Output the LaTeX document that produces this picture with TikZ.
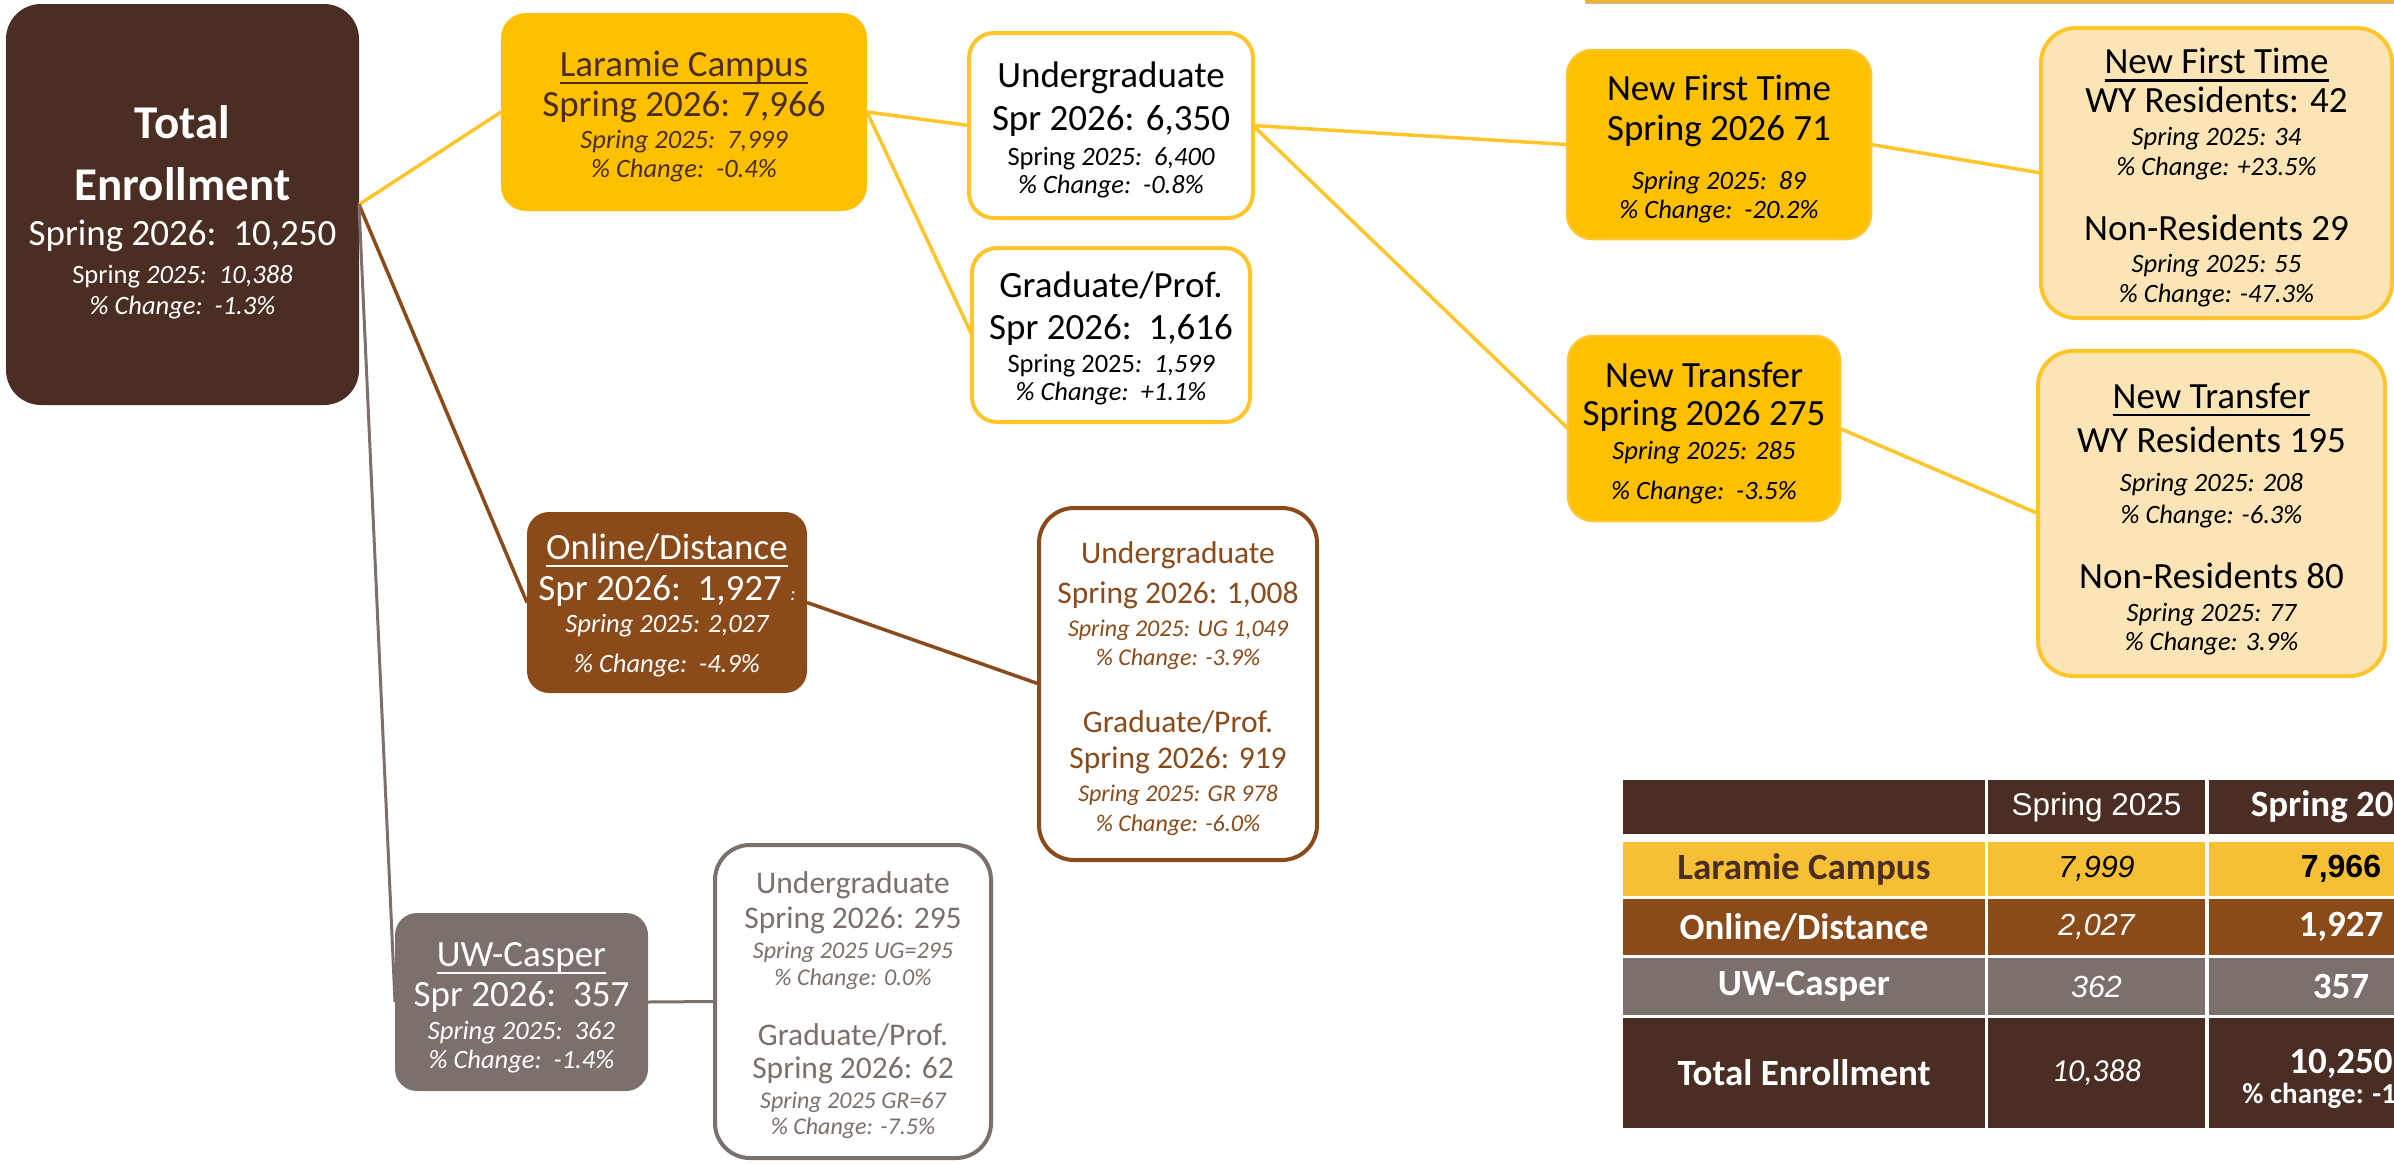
\documentclass[tikz,border=0pt]{standalone}
\usepackage{fontspec}
\setmainfont{Carlito}
\newfontfamily\arialf{Liberation Sans}
\definecolor{ubrown}{HTML}{4A2E23}
\definecolor{boxgold}{HTML}{FFC000}
\definecolor{lgold}{HTML}{FFC52A}
\definecolor{tgold}{HTML}{F6BF36}
\definecolor{obrown}{HTML}{8A4A1A}
\definecolor{ugray}{HTML}{7B706B}
\definecolor{lyel}{HTML}{FBE5B6}
\definecolor{topgold}{HTML}{F2B02F}
\newcommand\TLn[3]{\lineskiplimit=-100pt\spaceskip=0pt\xspaceskip=0pt\fontsize{#1}{#2}\selectfont{#3}\par}
\newcommand\pushd[1]{\raisebox{#1}{\vphantom{Ldlf}}}
\newsavebox\ulbox
\newcommand\ulx[1]{\sbox\ulbox{#1}\rlap{\rule[-0.22em]{\wd\ulbox}{0.07em}}\usebox\ulbox}
\tikzset{
  bx/.style={inner sep=0pt, outer sep=0pt, align=center},
  darkbox/.style={bx, fill=ubrown, text=white},
  goldbox/.style={bx, fill=boxgold, draw=lgold, line width=2.5pt},
  wgold/.style={bx, fill=white, draw=lgold, line width=4pt, text=black},
  ybox/.style={bx, fill=lyel, draw=lgold, line width=4pt, text=black},
  obox/.style={bx, fill=obrown, text=white},
  wbrown/.style={bx, fill=white, draw=obrown, line width=4pt, text=obrown},
  gbox/.style={bx, fill=ugray, text=white},
  wgray/.style={bx, fill=white, draw=ugray, line width=4pt, text=ugray},
  goldline/.style={draw=lgold, line width=3.5pt},
  brownline/.style={draw=obrown, line width=3.5pt},
  grayline/.style={draw=ugray, line width=3pt},
  cell/.style={inner sep=0pt, outer sep=0pt, align=center},
  lblfont/.style={font=\bfseries\fontsize{37}{40}\selectfont},
  oldfont/.style={font=\arialf\itshape\fontsize{30.5}{34}\selectfont},
  newfont/.style={font=\bfseries\fontsize{37}{40}\selectfont}
}
\begin{document}
\begin{tikzpicture}[x=1pt,y=-1pt]
\useasboundingbox (0,0) rectangle (2394,1163);
\begin{scope}
\clip (0,0) rectangle (2394,1163);
% top strip
\fill[topgold] (1585,0) rectangle (2394,2.5);
\fill[black!25] (1585,2.5) rectangle (2394,4);

% main boxes
\node[darkbox, rounded corners=35pt, minimum width=353pt, minimum height=401pt, text width=345pt] (tot) at (182.5,204.5)
 {\centering
  \TLn{47}{62}{\pushd{16pt}\bfseries Total}
  \TLn{47}{62}{\bfseries Enrollment}
  \TLn{37}{45}{Spring 2026:\ \ 10,250}
  \TLn{26.5}{37.5}{Spring \itshape 2025:\ \ 10,388}
  \TLn{26.5}{31}{\itshape \%~Change:\ \ -1.3\%}};

\node[bx, fill=boxgold, text=ubrown, rounded corners=25pt, minimum width=366pt, minimum height=198pt, text width=358pt] (lar) at (684,112)
 {\centering
  \TLn{37}{40}{\pushd{9pt}\ulx{Laramie Campus}}
  \TLn{37}{40}{Spring 2026: 7,966}
  \TLn{26.5}{32.5}{\itshape Spring 2025:\ \ 7,999}
  \TLn{26.5}{29}{\itshape \%~Change:\ \ -0.4\%}};

\node[wgold, rounded corners=25pt, minimum width=284pt, minimum height=185pt, text width=276pt] (ug) at (1111,125.5)
 {\centering
  \TLn{37}{40}{\pushd{8pt}Undergraduate}
  \TLn{37}{43}{Spr 2026: 6,350}
  \TLn{26.5}{35}{Spring \itshape 2025:\ \ 6,400}
  \TLn{26.5}{28}{\itshape \%~Change:\ \ -0.8\%}};

\node[wgold, rounded corners=25pt, minimum width=278pt, minimum height=174pt, text width=270pt] (grad) at (1111,335)
 {\centering
  \TLn{37}{40}{\pushd{7pt}Graduate/Prof.}
  \TLn{37}{42}{Spr 2026:\ \ 1,616}
  \TLn{26.5}{33}{Spring 2025\itshape :\ \ 1,599}
  \TLn{26.5}{28}{\itshape \%~Change:\ \ +1.1\%}};

\node[goldbox, rounded corners=25pt, minimum width=304pt, minimum height=189pt, text width=296pt] (nft) at (1719,144.5)
 {\centering
  \TLn{37}{40}{\pushd{8pt}New First Time}
  \TLn{37}{40}{Spring 2026 71}
  \TLn{26.5}{49}{\itshape Spring 2025:\ \ 89}
  \TLn{26.5}{29}{\itshape \%~Change:\ \ -20.2\%}};

\node[goldbox, rounded corners=25pt, minimum width=272pt, minimum height=185pt, text width=266pt] (nt) at (1704,428.5)
 {\centering
  \TLn{37}{40}{\pushd{8pt}New Transfer}
  \TLn{37}{38}{Spring 2026 275}
  \TLn{26.5}{34}{\itshape Spring 2025: 285}
  \TLn{26.5}{40}{\itshape \%~Change:\ \ -3.5\%}};

\node[ybox, rounded corners=35pt, minimum width=351pt, minimum height=290pt, text width=343pt] (nfr) at (2216.5,173)
 {\centering
  \TLn{37}{39}{\pushd{9pt}\ulx{New First Time}}
  \TLn{37}{39}{WY Residents: 42}
  \TLn{26.5}{33}{\itshape Spring 2025: 34}
  \TLn{26.5}{30}{\itshape \%~Change: +23.5\%}
  \TLn{37}{65}{Non-Residents 29}
  \TLn{26.5}{32}{\itshape Spring 2025: 55}
  \TLn{26.5}{30}{\itshape \%~Change: -47.3\%}};

\node[ybox, rounded corners=35pt, minimum width=347pt, minimum height=325pt, text width=339pt] (ntr) at (2211.5,513.5)
 {\centering
  \TLn{37}{40}{\pushd{11pt}\ulx{New Transfer}}
  \TLn{37}{44}{WY Residents 195}
  \TLn{26.5}{39}{\itshape Spring 2025: 208}
  \TLn{26.5}{32}{\itshape \%~Change: -6.3\%}
  \TLn{37}{65.5}{Non-Residents 80}
  \TLn{26.5}{33}{\itshape Spring 2025: 77}
  \TLn{26.5}{29}{\itshape \%~Change: 3.9\%}};

\node[obox, rounded corners=22pt, minimum width=280pt, minimum height=181pt, text width=274pt] (onl) at (667,602.5)
 {\centering
  \TLn{37}{40}{\pushd{5pt}\ulx{Online/Distance}}
  \TLn{37}{41}{Spr 2026:\ \ 1,927 {\fontsize{20}{20}\selectfont\itshape :}}
  \TLn{26.5}{32}{\itshape Spring 2025: 2,027}
  \TLn{26.5}{40}{\itshape \%~Change:\ \ -4.9\%}};

\node[wbrown, rounded corners=35pt, minimum width=278pt, minimum height=352pt, text width=270pt] (ons) at (1178,684)
 {\centering
  \TLn{31.5}{34}{\pushd{10pt}Undergraduate}
  \TLn{31.5}{40}{Spring 2026: 1,008}
  \TLn{24}{33}{\itshape Spring 2025: UG 1,049}
  \TLn{24}{29}{\itshape \%~Change: -3.9\%}
  \TLn{31.5}{67}{Graduate/Prof.}
  \TLn{31.5}{36}{Spring 2026: 919}
  \TLn{24}{33}{\itshape Spring 2025: GR 978}
  \TLn{24}{30}{\itshape \%~Change: -6.0\%}};

\node[gbox, rounded corners=22pt, minimum width=253pt, minimum height=178pt, text width=247pt] (cas) at (521.5,1002)
 {\centering
  \TLn{37}{40}{\pushd{9pt}\ulx{UW-Casper}}
  \TLn{37}{40}{Spr 2026:\ \ 357}
  \TLn{26.5}{33}{\itshape Spring 2025:\ \ 362}
  \TLn{26.5}{29}{\itshape \%~Change:\ \ -1.4\%}};

\node[wgray, rounded corners=35pt, minimum width=276pt, minimum height=313pt, text width=268pt] (css) at (853,1001.5)
 {\centering
  \TLn{31.5}{34}{\pushd{7pt}Undergraduate}
  \TLn{31.5}{35}{Spring 2026: 295}
  \TLn{24}{30}{\itshape Spring 2025 UG=295}
  \TLn{24}{27}{\itshape \%~Change: 0.0\%}
  \TLn{31.5}{60}{Graduate/Prof.}
  \TLn{31.5}{33}{Spring 2026: 62}
  \TLn{24}{30}{\itshape Spring 2025 GR=67}
  \TLn{24}{26}{\itshape \%~Change: -7.5\%}};

% connectors
\draw[goldline] (tot.east) -- (lar.west);
\draw[brownline] (tot.east) -- (onl.west);
\draw[grayline] (tot.east) -- (cas.west);
\draw[goldline] (lar.east) -- (ug.west);
\draw[goldline] (lar.east) -- (grad.west);
\draw[goldline] (ug.east) -- (nft.west);
\draw[goldline] (ug.east) -- (nt.west);
\draw[goldline] (nft.east) -- (nfr.west);
\draw[goldline] (nt.east) -- (ntr.west);
\draw[brownline] (onl.east) -- (ons.west);
\draw[grayline] (cas.east) -- (css.west);

% table
\node[cell, fill=ubrown, minimum width=362pt, minimum height=54pt] (h1) at (1804,807) {};
\node[cell, fill=ubrown, minimum width=217pt, minimum height=54pt, text=white, font=\arialf\fontsize{31.5}{34}\selectfont] (h2) at (2096.5,807) {Spring 2025};
\node[cell, fill=ubrown, minimum width=264pt, minimum height=54pt, text=white, newfont] (h3) at (2341,807) {Spring 2026};

\node[cell, fill=tgold, minimum width=362pt, minimum height=54pt, text=ubrown, lblfont] (l1) at (1804,869) {Laramie Campus};
\node[cell, fill=tgold, minimum width=217pt, minimum height=54pt, text=black, oldfont] (a1) at (2096.5,869) {7,999};
\node[cell, fill=tgold, minimum width=264pt, minimum height=54pt, text=black, font=\arialf\bfseries\fontsize{32}{36}\selectfont] (b1) at (2341,869) {7,966};

\node[cell, fill=obrown, minimum width=362pt, minimum height=56pt, text=white, lblfont] (l2) at (1804,927) {Online/Distance};
\node[cell, fill=obrown, minimum width=217pt, minimum height=56pt, text=white, oldfont] (a2) at (2096.5,927) {2,027};
\node[cell, fill=obrown, minimum width=264pt, minimum height=56pt, text=white, newfont] (b2) at (2341,927) {1,927};

\node[cell, fill=ugray, minimum width=362pt, minimum height=57pt, text=white, lblfont] (l3) at (1804,986.5) {UW-Casper};
\node[cell, fill=ugray, minimum width=217pt, minimum height=57pt, text=white, oldfont] (a3) at (2096.5,986.5) {362};
\node[cell, fill=ugray, minimum width=264pt, minimum height=57pt, text=white, newfont] (b3) at (2341,986.5) {357};

\node[cell, fill=ubrown, minimum width=362pt, minimum height=110pt, text=white, lblfont] (l4) at (1804,1073) {Total Enrollment};
\node[cell, fill=ubrown, minimum width=217pt, minimum height=110pt, text=white, font=\itshape\fontsize{32}{36}\selectfont] (a4) at (2096.5,1073) {10,388};
\node[cell, fill=ubrown, minimum width=264pt, minimum height=110pt] (b4) at (2341,1073) {};
\node[cell, text=white, newfont] (b4a) at (2341,1064) {10,250};
\node[cell, text=white, font=\bfseries\fontsize{29}{32}\selectfont] (b4b) at (2341,1096) {\%~change: -1.3\%};
\end{scope}
\end{tikzpicture}
\end{document}
